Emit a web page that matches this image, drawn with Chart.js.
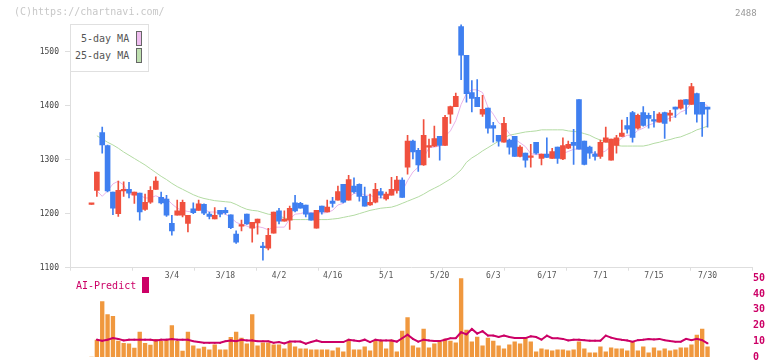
<!DOCTYPE html>
<html>
<head>
<meta charset="utf-8">
<title>2488</title>
<script src="https://cdn.jsdelivr.net/npm/chart.js@4.4.1/dist/chart.umd.min.js"></script>
<style>
  body { margin: 0; background: #fff; }
  #wrap { position: relative; width: 772px; height: 361px; overflow: hidden; font-family: "DejaVu Sans Mono", monospace; }
  #wrap canvas { position: absolute; left: 0; }
  #mainChart { top: 0; }
  #subChart { top: 270px; }
  .txt { position: absolute; white-space: nowrap; line-height: 10px; }
  .swatch { position: absolute; box-sizing: border-box; width: 6px; height: 15px; border: 1px solid #666; }
</style>
</head>
<body>
<div id="wrap">
  <canvas id="mainChart" width="772" height="300"></canvas>
  <canvas id="subChart" width="772" height="91"></canvas>

  <div class="txt" style="left:14px; top:7px; font-size:10px; color:#c8c8c8;">(C)https://chartnavi.com/</div>
  <div class="txt" style="left:735px; top:8px; font-size:9px; color:#999;">2488</div>

  <!-- legend -->
  <div style="position:absolute; left:70px; top:24px; width:79px; height:48px; box-sizing:border-box; border:1px solid #e0e0e0; background:#fff;"></div>
  <div class="txt" style="left:81px; top:33.5px; font-size:10px; color:#555;">5-day MA</div>
  <div class="swatch" style="left:136px; top:31px; background:#efbdef;"></div>
  <div class="txt" style="left:75px; top:51px; font-size:10px; color:#555;">25-day MA</div>
  <div class="swatch" style="left:136px; top:48px; background:#bfe0b0;"></div>

  <div class="txt" style="left:76px; top:281px; font-size:10px; color:#cc0066;">AI-Predict</div>
  <div style="position:absolute; left:142px; top:277px; width:7px; height:16px; background:#cc0066;"></div>
</div>

<script>
// Data, one entry per trading day
const dateTicks = [15, 25, 35, 45, 55, 65, 75, 85, 95, 105, 115];
const dateLabels = ['3/4', '3/18', '4/2', '4/16', '5/1', '5/20', '6/3', '6/17', '7/1', '7/15', '7/30'];
const priceTicks = [1100, 1200, 1300, 1400, 1500];
const aiTicks = [0, 10, 20, 30, 40, 50];

const opens = [
  1217,1243,1350,1326,1240,1200,1242,1245,1234,1238,
  1208,1221,1245,1230,1227,1182,1197,1197,1182,1209,
  1206,1217,1199,1190,1206,1206,1198,1162,1177,1199,
  1173,1183,1140,1136,1164,1205,1186,1188,1220,1219,
  1216,1201,1173,1214,1203,1223,1225,1254,1225,1251,
  1254,1232,1216,1221,1241,1227,1234,1243,1262,1286,
  1334,1317,1290,1323,1325,1343,1326,1384,1398,1546,
  1493,1424,1415,1384,1395,1363,1345,1332,1336,1343,
  1306,1312,1304,1332,1302,1310,1302,1323,1301,1321,
  1332,1411,1334,1323,1310,1306,1332,1299,1326,1343,
  1363,1387,1358,1387,1382,1374,1369,1387,1382,1397,
  1395,1411,1402,1422,1406,1397
];
const highs = [
  1217,1277,1360,1327,1240,1260,1259,1258,1240,1238,
  1236,1250,1268,1240,1234,1197,1225,1225,1197,1220,
  1225,1218,1203,1211,1206,1211,1198,1168,1188,1199,
  1184,1190,1147,1173,1203,1210,1205,1214,1234,1221,
  1216,1201,1206,1214,1225,1230,1251,1254,1271,1266,
  1255,1249,1236,1256,1247,1240,1267,1269,1266,1345,
  1336,1321,1374,1338,1362,1343,1382,1399,1423,1550,
  1493,1446,1448,1419,1395,1369,1345,1378,1338,1343,
  1326,1312,1328,1332,1310,1340,1321,1323,1340,1334,
  1356,1411,1334,1325,1315,1336,1360,1338,1345,1373,
  1378,1389,1384,1398,1386,1389,1387,1388,1391,1397,
  1410,1411,1441,1423,1406,1397
];
const lows = [
  1217,1232,1312,1240,1198,1195,1232,1229,1219,1188,
  1206,1219,1245,1218,1195,1160,1197,1194,1166,1200,
  1206,1198,1190,1190,1194,1199,1172,1145,1168,1180,
  1147,1162,1114,1133,1164,1181,1186,1171,1203,1210,
  1194,1188,1173,1199,1203,1212,1225,1220,1225,1238,
  1223,1214,1215,1220,1229,1225,1234,1238,1230,1273,
  1301,1278,1289,1304,1324,1299,1326,1367,1398,1448,
  1406,1388,1398,1380,1349,1332,1325,1332,1310,1306,
  1305,1286,1286,1310,1290,1304,1302,1293,1300,1320,
  1291,1319,1290,1302,1299,1302,1332,1299,1312,1343,
  1349,1332,1356,1362,1358,1360,1369,1339,1371,1378,
  1393,1384,1402,1369,1343,1360
];
const closes = [
  1217,1277,1327,1242,1210,1243,1245,1238,1240,1203,
  1221,1243,1260,1220,1197,1168,1205,1221,1197,1202,
  1218,1201,1195,1197,1199,1202,1174,1147,1179,1181,
  1184,1190,1137,1160,1203,1186,1190,1210,1205,1210,
  1199,1188,1206,1203,1212,1219,1241,1221,1263,1240,
  1232,1214,1221,1245,1234,1236,1245,1262,1230,1334,
  1314,1290,1345,1326,1339,1326,1378,1398,1417,1493,
  1422,1413,1398,1393,1358,1358,1334,1367,1323,1306,
  1323,1299,1306,1312,1310,1304,1315,1302,1326,1328,
  1326,1319,1291,1312,1306,1332,1340,1338,1340,1349,
  1356,1341,1382,1363,1376,1371,1384,1367,1386,1393,
  1410,1402,1435,1384,1384,1393
];
const ma5 = [
  null,1242,1232,1242,1255,1260,1253,1236,1235,1234,
  1229,1229,1233,1229,1228,1218,1210,1206,1204,1203,
  1209,1208,1203,1203,1202,1199,1193,1184,1180,1177,
  1173,1176,1174,1170,1175,1175,1175,1190,1199,1200,
  1203,1202,1202,1201,1202,1206,1216,1219,1231,1237,
  1239,1234,1234,1230,1229,1230,1236,1244,1241,1261,
  1277,1286,1303,1322,1323,1325,1343,1353,1372,1402,
  1422,1429,1429,1424,1397,1384,1368,1362,1348,1338,
  1331,1324,1311,1309,1310,1306,1309,1309,1311,1315,
  1319,1320,1318,1315,1311,1312,1316,1326,1331,1340,
  1345,1345,1354,1358,1364,1367,1375,1372,1377,1380,
  1388,1392,1405,1405,1403,1400
];
const ma25 = [
  null,1344,1338,1332,1327,1321,1314,1308,1302,1296,
  1290,1283,1276,1269,1263,1256,1250,1245,1240,1235,
  1231,1228,1226,1224,1223,1222,1221,1217,1212,1208,
  1206,1205,1202,1199,1198,1196,1192,1189,1189,1189,
  1189,1189,1189,1189,1189,1190,1191,1193,1195,1197,
  1200,1203,1206,1208,1210,1211,1212,1215,1219,1223,
  1227,1231,1236,1242,1247,1252,1258,1264,1272,1281,
  1295,1303,1309,1316,1322,1328,1334,1340,1345,1347,
  1349,1351,1352,1353,1355,1355,1355,1355,1355,1353,
  1352,1351,1348,1345,1340,1336,1333,1330,1326,1325,
  1325,1325,1325,1325,1327,1330,1332,1335,1337,1340,
  1342,1346,1350,1355,1358,1362
];
// volume, relative units (tallest day = 80)
const volume = [
  0,17.3,56.3,43,41.3,16.3,14,13.3,9,25.3,
  14,12,18,16,18,32,16,6,25.3,11.3,
  8.3,10,7.3,12.3,7.3,7.3,20,25.3,19.3,13.3,
  43,11.3,14.3,14.3,12.3,12.3,8.3,14.3,10.3,8.3,
  8.3,7.3,7.3,7.3,7.3,6.3,9.3,5.3,17.3,7.3,
  7.3,10.3,6.3,16.3,16.3,8.3,17.3,5.3,26.3,40,
  11.3,9.3,28.3,9.3,13.3,15.3,18.3,16.3,14.3,80,
  27.3,15.3,20.3,11.3,19.3,16.3,11.3,8.3,12.3,15.3,
  13.3,19.3,15.3,5.3,8.3,7.3,6.3,7.3,7.3,6.3,
  7.3,15.3,8.3,4.3,4.3,10.3,5.3,9.3,8.3,8.3,
  6.3,15.3,6.3,10.3,4.3,9.3,6.3,8.3,6.3,7.3,
  9.3,9.3,12.3,22.3,28.3,10.3
];
const aiPredict = [
  null,11,10.3,11,12,11.5,10.5,11,11,11,
  11,11,10.5,11,11,11.5,11,11,11,10,
  9.5,9,9,9,9,10,10.5,10,11,10.5,
  10.5,10,10,10,9,9.5,8.6,9.8,9.8,9.8,
  8.4,9.5,10.5,9.5,9.5,9.5,9.5,9.5,11,10.5,
  10,11,9.5,11,10.5,10.5,10.5,9.8,11.9,14.2,
  11.5,9.7,11,10.5,10.1,10.1,11,11.9,11.9,15.7,
  14.4,17.8,14.9,16.4,13.6,13.6,12.7,13.6,12.7,12.1,
  12,12,13.1,12.7,11,13.6,11.9,11.9,11.5,10.5,
  11,11,10.7,10.4,10.4,10.4,13.6,12.3,11.5,10.9,
  10.5,9.7,10.7,11,11.5,11.2,11.5,10.7,10.1,9.7,
  9.7,11.5,10.7,11.5,10.7,8.6
];

// Layout constants
const X_MIN = -4.015, X_MAX = 123.3;
const UP = '#f0503e', DOWN = '#3f7ff0';
const AXIS = '#dedede';
const FONT = 'DejaVu Sans Mono';

const candleColors = opens.map((o, i) => closes[i] >= o ? UP : DOWN);
const xy = arr => arr.map((v, i) => ({ x: i, y: v }));

// keep label overhang from shrinking the plot area
function noOverhang(s) {
  s.paddingTop = 0;
  s.paddingBottom = 0;
  s.paddingLeft = 0;
  s.paddingRight = 0;
}

// Main price chart
new Chart(document.getElementById('mainChart'), {
  type: 'bar',
  data: {
    datasets: [
      {
        type: 'line', label: '25-day MA', data: xy(ma25),
        borderColor: '#b3dba3', borderWidth: 1, pointRadius: 0, order: 3
      },
      {
        type: 'line', label: '5-day MA', data: xy(ma5),
        borderColor: '#e8b3ea', borderWidth: 1, pointRadius: 0, order: 2
      },
      {
        label: 'wick', data: highs.map((h, i) => ({ x: i, y: [lows[i], h] })),
        backgroundColor: candleColors, barThickness: 1, grouped: false, order: 1
      },
      {
        label: 'body', data: opens.map((o, i) => ({ x: i, y: [o, closes[i]] })),
        backgroundColor: candleColors, barThickness: 5, minBarLength: 1.5, grouped: false, order: 0
      }
    ]
  },
  options: {
    responsive: false,
    animation: false,
    layout: { padding: { top: 24.4, right: 20, left: 0, bottom: 0 } },
    plugins: { legend: { display: false }, tooltip: { enabled: false } },
    scales: {
      x: {
        type: 'linear', min: X_MIN, max: X_MAX, offset: false,
        grid: { drawOnChartArea: false, tickLength: 3, color: AXIS, offset: false },
        border: { color: AXIS },
        ticks: { display: false },
        afterBuildTicks: s => {
          const step = (X_MAX - X_MIN) / 11;
          s.ticks = Array.from({ length: 12 }, (_, k) => ({ value: X_MIN + k * step }));
        },
        afterFit: s => { s.height = 3; noOverhang(s); }
      },
      xd: {
        type: 'linear', position: 'bottom', weight: 1, min: X_MIN, max: X_MAX, offset: false,
        grid: { display: false, drawTicks: false, offset: false },
        border: { display: false },
        afterBuildTicks: s => { s.ticks = dateTicks.map(v => ({ value: v })); },
        ticks: {
          autoSkip: false, maxRotation: 0, padding: 0, color: '#555',
          font: { family: FONT, size: 8 },
          callback: (v, i) => dateLabels[i]
        },
        afterFit: s => { s.height = 29.3; noOverhang(s); }
      },
      y: {
        min: 1100, max: 1550,
        grid: { drawOnChartArea: false, tickLength: 5, color: AXIS },
        border: { color: AXIS },
        afterBuildTicks: s => { s.ticks = priceTicks.map(v => ({ value: v })); },
        ticks: { padding: 6, color: '#444', font: { family: FONT, size: 8 }, callback: v => String(v) },
        afterFit: s => { s.width = 70; noOverhang(s); }
      }
    }
  }
});

// Volume + AI-Predict sub chart
new Chart(document.getElementById('subChart'), {
  type: 'bar',
  data: {
    datasets: [
      {
        type: 'line', label: 'AI-Predict', data: xy(aiPredict), yAxisID: 'ya',
        borderColor: '#cc0066', borderWidth: 2, pointStyle: 'rect', pointRadius: 1.2,
        pointBackgroundColor: '#cc0066', pointBorderWidth: 0, order: 0
      },
      {
        label: 'Volume', data: xy(volume), yAxisID: 'yv',
        backgroundColor: '#f0983e', barThickness: 3.7, grouped: false, order: 1
      }
    ]
  },
  options: {
    responsive: false,
    animation: false,
    layout: { padding: { top: 8.3, right: 0, left: 70, bottom: 2.5 } },
    plugins: { legend: { display: false }, tooltip: { enabled: false } },
    scales: {
      x: { type: 'linear', min: X_MIN, max: X_MAX, offset: false, display: false, grid: { offset: false } },
      yv: { display: false, min: 0, max: 80 },
      ya: {
        position: 'right', min: 0, max: 50,
        grid: { display: false, drawTicks: false }, border: { display: false },
        afterBuildTicks: s => { s.ticks = aiTicks.map(v => ({ value: v })); },
        ticks: { padding: 1, color: '#cc0066', font: { family: FONT, size: 10, weight: 'bold' } },
        afterFit: s => { s.width = 20; noOverhang(s); }
      }
    }
  }
});
</script>
</body>
</html>
